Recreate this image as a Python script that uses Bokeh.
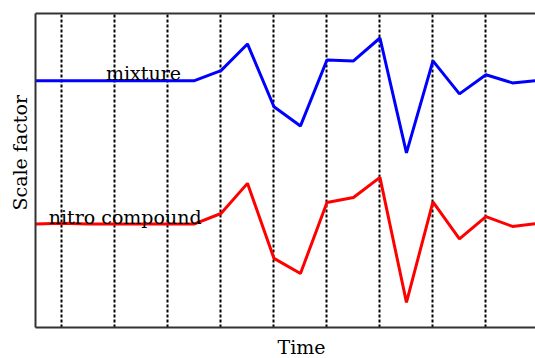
import math
from bokeh.plotting import figure
from bokeh.models import Range1d, FixedTicker, LinearAxis, Label, Title
from bokeh.embed import file_html
from bokeh.resources import INLINE

# ---- data ----
time_idx = list(range(20))
mixture = [0.786, 0.786, 0.786, 0.786, 0.786, 0.786, 0.786, 0.818, 0.903, 0.703,
           0.642, 0.852, 0.849, 0.922, 0.556, 0.849, 0.744, 0.805, 0.779, 0.787]
nitro = [0.330, 0.332, 0.330, 0.330, 0.330, 0.330, 0.330, 0.363, 0.459, 0.220,
         0.172, 0.398, 0.414, 0.478, 0.080, 0.400, 0.282, 0.353, 0.322, 0.332]
grid_ticks = [1, 3, 5, 7, 9, 11, 13, 15, 17]

FONT = "DejaVu Serif"
FSIZE = "19px"
AXIS_COLOR = "#333333"

p = figure(frame_width=500, frame_height=314, output_backend="svg", toolbar_location=None,
           x_range=Range1d(0, 18.87), y_range=Range1d(0, 1),
           min_border_left=35, min_border_right=0, min_border_top=13, min_border_bottom=31)
p.outline_line_color = None
p.background_fill_color = "white"
p.border_fill_color = "white"

def style_axis(ax):
    ax.ticker = FixedTicker(ticks=[])
    ax.axis_line_color = AXIS_COLOR
    ax.axis_line_width = 2
    ax.major_tick_line_color = None
    ax.minor_tick_line_color = None
    ax.major_tick_out = 0
    ax.major_tick_in = 0
    ax.minor_tick_out = 0
    ax.major_label_standoff = 0

for ax in p.xaxis + p.yaxis:
    style_axis(ax)

top = LinearAxis()
style_axis(top)
p.add_layout(top, "above")

p.xgrid.ticker = FixedTicker(ticks=grid_ticks)
p.xgrid.grid_line_color = "black"
p.xgrid.grid_line_width = 2
p.xgrid.grid_line_dash = "3 2"
p.ygrid.grid_line_color = None

p.line(time_idx, mixture, line_color="#0000ff", line_width=3)
p.line(time_idx, nitro, line_color="#ff0000", line_width=3)

def lab(x, y, text):
    p.add_layout(Label(x=x, y=y, text=text, text_font=FONT, text_font_size=FSIZE,
                       text_color="black", text_baseline="alphabetic", text_align="left"))

lab(2.66, 0.809, "mixture")
lab(0.50, 0.3525, "nitro compound")

def ttl(text, loc, offset, standoff, valign):
    t = Title(text=text, align="left", offset=offset, standoff=standoff,
              vertical_align=valign,
              text_font=FONT, text_font_size=FSIZE, text_font_style="normal",
              text_color="black")
    p.add_layout(t, loc)

ttl("Time", "below", 242, 13, "bottom")
ttl("Scale factor", "left", 117, 6, "top")

open("out.html", "w").write(file_html(p, INLINE))
